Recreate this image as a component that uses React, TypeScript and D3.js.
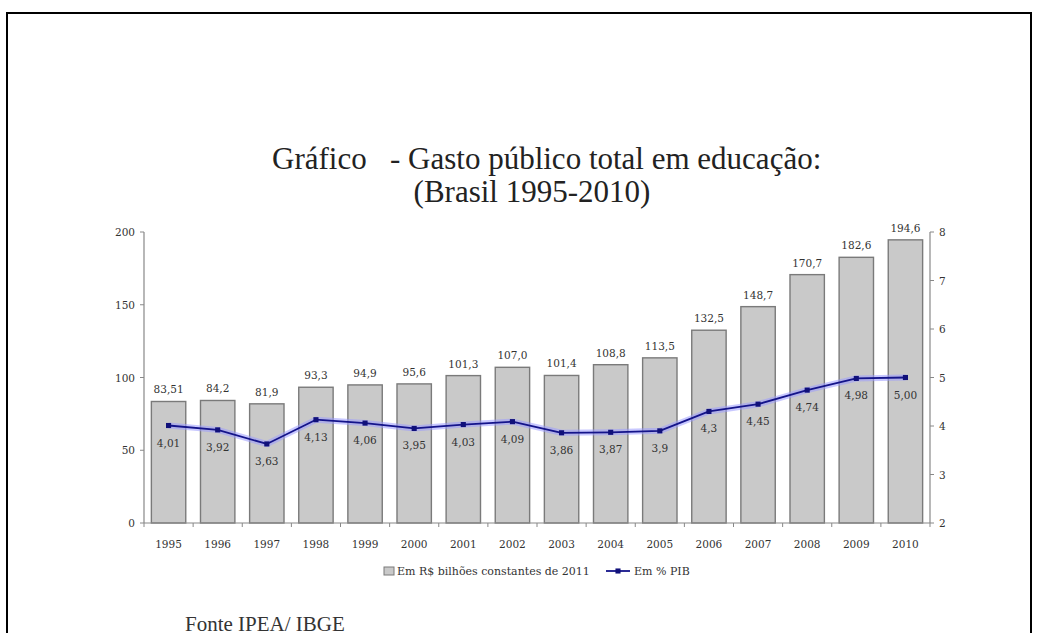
import React from "react";
import * as d3 from "d3";

const years = ["1995","1996","1997","1998","1999","2000","2001","2002","2003","2004","2005","2006","2007","2008","2009","2010"];
const gastoBilhoes = [83.51,84.2,81.9,93.3,94.9,95.6,101.3,107.0,101.4,108.8,113.5,132.5,148.7,170.7,182.6,194.6];
const gastoLabels = ["83,51","84,2","81,9","93,3","94,9","95,6","101,3","107,0","101,4","108,8","113,5","132,5","148,7","170,7","182,6","194,6"];
const pctPIB = [4.01,3.92,3.63,4.13,4.06,3.95,4.03,4.09,3.86,3.87,3.9,4.3,4.45,4.74,4.98,5.0];
const pctLabels = ["4,01","3,92","3,63","4,13","4,06","3,95","4,03","4,09","3,86","3,87","3,9","4,3","4,45","4,74","4,98","5,00"];
const leftTicks = [0,50,100,150,200];
const rightTicks = [2,3,4,5,6,7,8];

const W = 1038, H = 633;
const X0 = 144, X1 = 930, Y0 = 523, Y1 = 232;

export default function App() {
  const x = d3.scaleBand<string>().domain(years).range([X0, X1]).paddingInner(0.3).paddingOuter(0.15);
  const yL = d3.scaleLinear().domain([0, 200]).range([Y0, Y1]);
  const yR = d3.scaleLinear().domain([2, 8]).range([Y0, Y1]);
  const cx = (i: number) => (x(years[i]) as number) + x.bandwidth() / 2;
  const line = d3.line<number>().x((_, i) => cx(i)).y((d) => yR(d));
  const pathD = line(pctPIB) || "";
  const sq = d3.symbol().type(d3.symbolSquare).size(26)() || "";
  const step = x.step();
  const small = { fontFamily: "'DejaVu Serif', serif", fontSize: 10.5, fill: "#333" } as const;
  const serif = "'Liberation Serif', 'Times New Roman', serif";

  return (
    <svg width={W} height={H} style={{ position: "absolute", left: 0, top: 0, background: "#fff" }}>
      <rect x={0} y={0} width={W} height={H} fill="#fff" />
      {/* frame */}
      <path d={`M7,${H + 5} L7,13 L1031,13 L1031,${H + 5}`} fill="none" stroke="#000" strokeWidth={2} />
      {/* title */}
      <text x={272} y={169} fontFamily={serif} fontSize={31} fill="#222">Gráfico</text>
      <text x={390} y={169} fontFamily={serif} fontSize={31} fill="#222">- Gasto público total em educação:</text>
      <text x={532} y={202} textAnchor="middle" fontFamily={serif} fontSize={31} fill="#222">(Brasil 1995-2010)</text>

      {/* bars */}
      {gastoBilhoes.map((v, i) => (
        <rect key={"b" + i} x={x(years[i])} y={yL(v)} width={x.bandwidth()} height={Y0 - yL(v)} fill="#c9c9c9" stroke="#7a7a7a" strokeWidth={1.4} />
      ))}
      {gastoBilhoes.map((v, i) => (
        <text key={"bl" + i} x={cx(i)} y={yL(v) - 8} textAnchor="middle" {...small}>{gastoLabels[i]}</text>
      ))}

      {/* axes */}
      <line x1={X0} x2={X0} y1={Y1} y2={Y0} stroke="#888" strokeWidth={1.2} />
      <line x1={X1} x2={X1} y1={Y1} y2={Y0} stroke="#888" strokeWidth={1.2} />
      <line x1={X0} x2={X1} y1={Y0} y2={Y0} stroke="#888" strokeWidth={1.2} />
      {leftTicks.map((t) => (
        <g key={"lt" + t}>
          <line x1={X0 - 4} x2={X0} y1={yL(t)} y2={yL(t)} stroke="#888" />
          <text x={X0 - 9} y={yL(t) + 4} textAnchor="end" {...small}>{t}</text>
        </g>
      ))}
      {rightTicks.map((t) => (
        <g key={"rt" + t}>
          <line x1={X1} x2={X1 + 4} y1={yR(t)} y2={yR(t)} stroke="#888" />
          <text x={X1 + 9} y={yR(t) + 4} textAnchor="start" {...small}>{t}</text>
        </g>
      ))}
      {years.map((yv, i) => (
        <g key={"xt" + yv}>
          <line x1={X0 + i * step} x2={X0 + i * step} y1={Y0} y2={Y0 + 4} stroke="#888" />
          <text x={cx(i)} y={Y0 + 25} textAnchor="middle" {...small}>{yv}</text>
        </g>
      ))}
      <line x1={X1} x2={X1} y1={Y0} y2={Y0 + 4} stroke="#888" />

      {/* line series */}
      <path d={pathD} fill="none" stroke="#9a9aff" strokeOpacity={0.55} strokeWidth={6} strokeLinejoin="round" />
      <path d={pathD} fill="none" stroke="#14148a" strokeWidth={1.8} strokeLinejoin="round" />
      {pctPIB.map((v, i) => (
        <path key={"m" + i} d={sq} transform={`translate(${cx(i)},${yR(v)})`} fill="#10107a" />
      ))}
      {pctPIB.map((v, i) => (
        <text key={"pl" + i} x={cx(i)} y={yR(v) + 21} textAnchor="middle" {...small}>{pctLabels[i]}</text>
      ))}

      {/* legend */}
      <rect x={384} y={567} width={10} height={8} fill="#c9c9c9" stroke="#7a7a7a" />
      <text x={397} y={575} fontFamily="'DejaVu Serif', serif" fontSize={11} fill="#333">Em R$ bilhões constantes de 2011</text>
      <line x1={606} x2={630} y1={571} y2={571} stroke="#14148a" strokeWidth={1.8} />
      <path d={sq} transform="translate(618,571)" fill="#10107a" />
      <text x={634} y={575} fontFamily="'DejaVu Serif', serif" fontSize={11} fill="#333">Em % PIB</text>

      {/* source */}
      <text x={185} y={631} fontFamily={serif} fontSize={21} fill="#333">Fonte IPEA/ IBGE</text>
    </svg>
  );
}
